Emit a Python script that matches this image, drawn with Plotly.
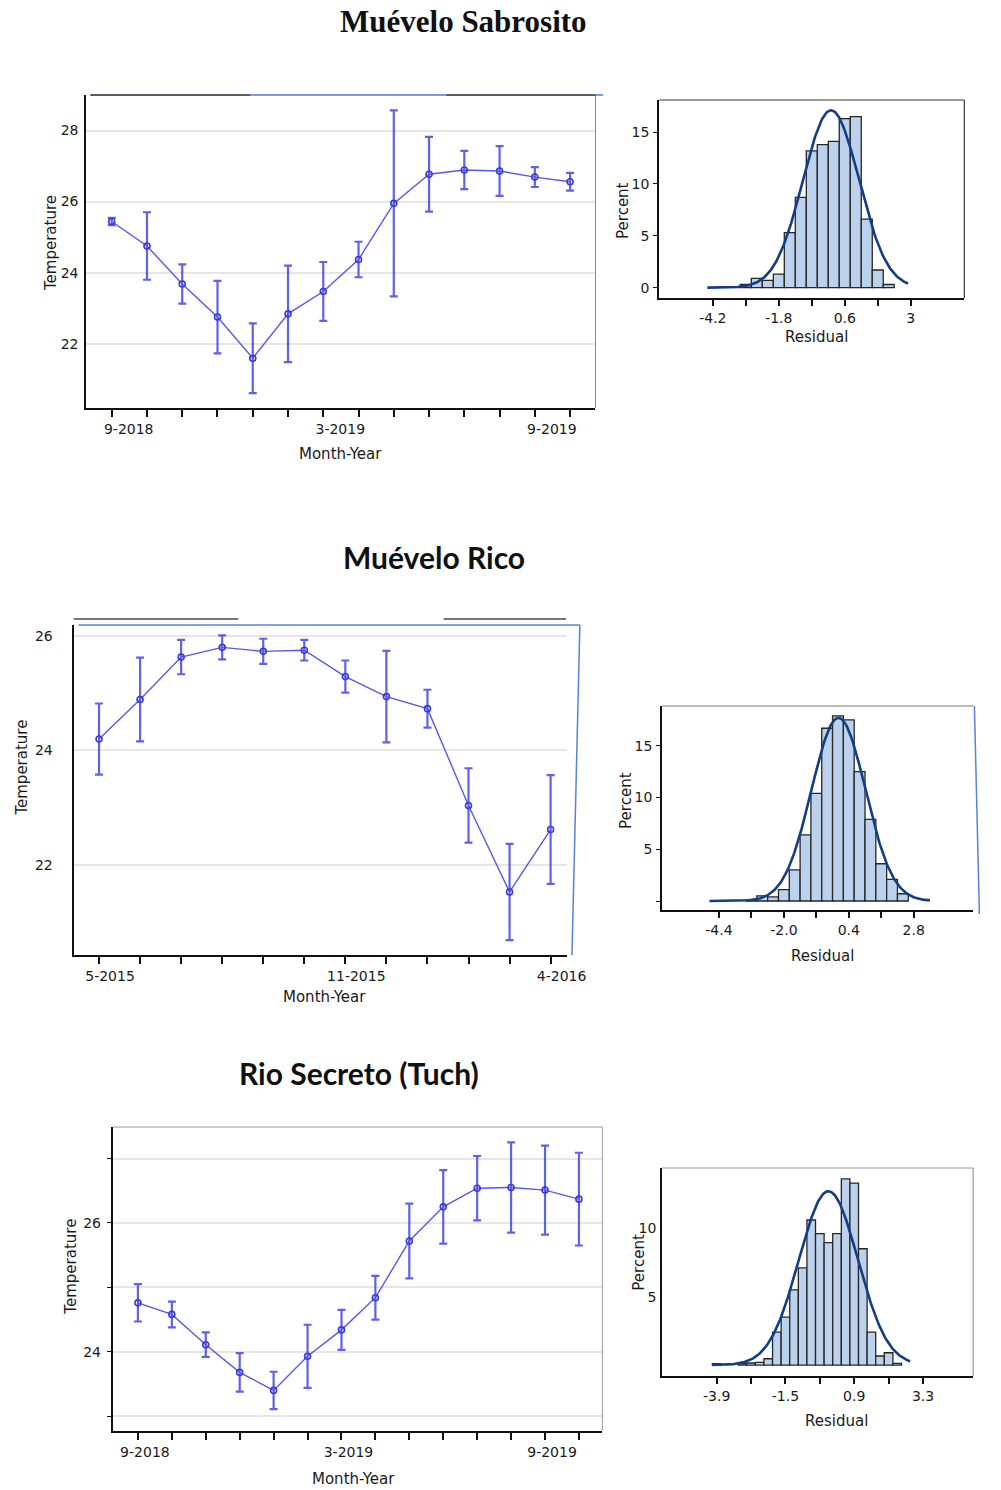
import numpy as np
import plotly.graph_objects as go

W, H = 1001, 1490

# ---------------- data ----------------
ms_months = ["9-2018", "10-2018", "11-2018", "12-2018", "1-2019", "2-2019", "3-2019",
             "4-2019", "5-2019", "6-2019", "7-2019", "8-2019", "9-2019", "10-2019"]
ms_labeled = ["9-2018", "3-2019", "9-2019"]
ms_mean = [25.44, 24.75, 23.68, 22.75, 21.59, 22.84, 23.47, 24.37, 25.95, 26.77, 26.89, 26.86, 26.69, 26.56]
ms_err = [0.10, 0.95, 0.55, 1.02, 0.98, 1.36, 0.83, 0.50, 2.62, 1.05, 0.54, 0.70, 0.28, 0.25]

mr_months = ["5-2015", "6-2015", "7-2015", "8-2015", "9-2015", "10-2015", "11-2015",
             "12-2015", "1-2016", "2-2016", "3-2016", "4-2016"]
mr_labeled = ["5-2015", "11-2015", "4-2016"]
mr_mean = [24.20, 24.89, 25.63, 25.80, 25.73, 25.75, 25.29, 24.94, 24.73, 23.04, 21.53, 22.62]
mr_err = [0.62, 0.73, 0.30, 0.21, 0.22, 0.18, 0.28, 0.80, 0.33, 0.65, 0.84, 0.95]

rs_months = ["9-2018", "10-2018", "11-2018", "12-2018", "1-2019", "2-2019", "3-2019",
             "4-2019", "5-2019", "6-2019", "7-2019", "8-2019", "9-2019", "10-2019"]
rs_labeled = ["9-2018", "3-2019", "9-2019"]
rs_mean = [24.76, 24.58, 24.11, 23.68, 23.40, 23.93, 24.34, 24.84, 25.72, 26.25, 26.54, 26.55, 26.51, 26.37]
rs_err = [0.29, 0.20, 0.19, 0.30, 0.29, 0.49, 0.31, 0.34, 0.58, 0.57, 0.50, 0.70, 0.69, 0.72]

# residual histograms (bin centres, percent)
ms_bin = [-3.0, -2.6, -2.2, -1.8, -1.4, -1.0, -0.6, -0.2, 0.2, 0.6, 1.0, 1.4, 1.8, 2.2]
ms_pct = [0.3, 0.9, 0.7, 1.3, 5.3, 8.7, 13.2, 13.8, 14.1, 16.3, 16.5, 6.6, 1.7, 0.3]
ms_bw = 0.4
ms_fit = dict(mean=0.1, sd=1.02, peak=17.1, lo=-4.4, hi=2.9)
ms_xt = [-4.2, -3.0, -1.8, -0.6, 0.6, 1.8, 3.0]
ms_xl = ["-4.2", "", "-1.8", "", "0.6", "", "3"]

mr_bin = [-3.2, -2.8, -2.4, -2.0, -1.6, -1.2, -0.8, -0.4, 0.0, 0.4, 0.8, 1.2, 1.6, 2.0, 2.4]
mr_pct = [0.1, 0.5, 0.4, 1.1, 3.0, 6.4, 10.4, 16.7, 17.9, 17.5, 12.5, 7.9, 3.6, 2.1, 0.7]
mr_bw = 0.4
mr_fit = dict(mean=0.02, sd=1.0, peak=17.7, lo=-4.75, hi=3.4)
mr_xt = [-4.4, -3.2, -2.0, -0.8, 0.4, 1.6, 2.8]
mr_xl = ["-4.4", "", "-2.0", "", "0.4", "", "2.8"]

rs_bin = [-3.9, -3.0, -2.7, -2.4, -2.1, -1.8, -1.5, -1.2, -0.9, -0.6, -0.3, 0.0, 0.3, 0.6, 0.9, 1.2, 1.5, 1.8, 2.1, 2.4]
rs_pct = [0.1, 0.1, 0.15, 0.2, 0.46, 2.4, 3.5, 5.5, 7.1, 10.6, 9.6, 8.95, 9.6, 13.6, 13.3, 8.5, 2.4, 0.66, 0.9, 0.12]
rs_bw = 0.3
rs_fit = dict(mean=0.0, sd=1.03, peak=12.7, lo=-4.05, hi=2.85)
rs_xt = [-3.9, -2.7, -1.5, -0.3, 0.9, 2.1, 3.3]
rs_xl = ["-3.9", "", "-1.5", "", "0.9", "", "3.3"]

# ---------------- helpers ----------------
def xd(a, b):
    return [a / W, b / W]


def yd(top, bot):
    return [1 - bot / H, 1 - top / H]


TICKFONT = dict(family="DejaVu Sans", size=14, color="#1a1a1a")
LINE_COL = "#5858e6"
ERR_COL = "rgba(52,52,226,0.78)"
BAR_COL = "#bcd2ec"
CURVE_COL = "#133e84"

fig = go.Figure()
layout = dict(width=W, height=H, autosize=False, margin=dict(l=0, r=0, t=0, b=0),
              paper_bgcolor="white", plot_bgcolor="white", showlegend=False,
              shapes=[], annotations=[])


def axname(i, kind):
    return kind if i == 1 else f"{kind}{i}"


def add_line_panel(i, months, labeled, mean, err, dom_x, dom_y, xr, yr,
                   ytv, ytt, shift, yticks="", standoff=3):
    n = len(months)
    fig.add_trace(go.Scatter(
        x=list(range(n)), y=mean, mode="lines+markers",
        line=dict(color=LINE_COL, width=1.4),
        marker=dict(symbol="circle-open", size=6, color="#3a3ad8", line=dict(width=1.6)),
        error_y=dict(type="data", array=err, color=ERR_COL, thickness=2.2, width=4),
        xaxis=axname(i, "x"), yaxis=axname(i, "y")))
    layout[f"xaxis{'' if i == 1 else i}"] = dict(
        domain=dom_x, anchor=axname(i, "y"), range=xr,
        tickvals=list(range(n)), ticktext=[m if m in labeled else "" for m in months],
        ticks="outside", ticklen=7, tickwidth=1.5, tickcolor="#111",
        ticklabelshift=shift, tickfont=TICKFONT,
        showline=True, linecolor="#111", linewidth=2, showgrid=False, zeroline=False)
    layout[f"yaxis{'' if i == 1 else i}"] = dict(
        domain=dom_y, anchor=axname(i, "x"), range=yr,
        tickvals=ytv, ticktext=ytt, ticks=yticks, ticklen=4, tickcolor="#111",
        ticklabelstandoff=standoff, tickfont=TICKFONT,
        showline=True, linecolor="#111", linewidth=2,
        showgrid=True, gridcolor="#e6e6e6", gridwidth=1.5, zeroline=False)


def add_hist_panel(i, bins, pct, bw, fit, xt, xl, dom_x, dom_y, xr, yr, ytv, ytt, yticks):
    fig.add_trace(go.Bar(
        x=bins, y=pct, width=bw,
        marker=dict(color=BAR_COL, line=dict(color="#262626", width=1.3)),
        xaxis=axname(i, "x"), yaxis=axname(i, "y")))
    gx = np.linspace(fit["lo"], fit["hi"], 200)
    gy = fit["peak"] * np.exp(-0.5 * ((gx - fit["mean"]) / fit["sd"]) ** 2)
    fig.add_trace(go.Scatter(
        x=gx, y=gy, mode="lines", line=dict(color=CURVE_COL, width=2.6),
        xaxis=axname(i, "x"), yaxis=axname(i, "y")))
    layout[f"xaxis{i}"] = dict(
        domain=dom_x, anchor=axname(i, "y"), range=xr,
        tickvals=xt, ticktext=xl, ticks="outside", ticklen=6, tickwidth=1.5,
        tickcolor="#111", tickfont=TICKFONT,
        showline=True, linecolor="#111", linewidth=2, showgrid=False, zeroline=False)
    layout[f"yaxis{i}"] = dict(
        domain=dom_y, anchor=axname(i, "x"), range=yr,
        tickvals=ytv, ticktext=ytt, ticks=yticks, ticklen=4, tickwidth=1.3,
        tickcolor="#111", tickfont=TICKFONT, ticklabelstandoff=1,
        showline=True, linecolor="#111", linewidth=2, showgrid=False, zeroline=False)


def seg(i, x0, y0, x1, y1, color, width):
    layout["shapes"].append(dict(
        type="line", xref=f"{axname(i, 'x')} domain", yref=f"{axname(i, 'y')} domain",
        x0=x0, y0=y0, x1=x1, y1=y1, line=dict(color=color, width=width)))


def text(t, px, py, size, family="DejaVu Sans", angle=0, bold=False, color="#1a1a1a"):
    layout["annotations"].append(dict(
        text=f"<b>{t}</b>" if bold else t, x=px / W, y=1 - py / H,
        xref="paper", yref="paper", xanchor="center", yanchor="middle",
        showarrow=False, textangle=angle, font=dict(family=family, size=size, color=color)))


# ---------------- panel 1: Muévelo Sabrosito ----------------
add_line_panel(1, ms_months, ms_labeled, ms_mean, ms_err,
               xd(88, 607), yd(95, 408), [-0.72, 13.72], [20.19, 29.0],
               [22, 24, 26, 28], ["22", "24", "26", "28"], 17)
seg(1, 1, 0, 1, 1, "#8a8a8a", 1)
seg(1, 0.008, 1, 1.015, 1, "#4f78d4", 1.5)
seg(1, 0.008, 1, 0.322, 1, "#4a4a4a", 1.5)
seg(1, 0.707, 1, 1.0, 1, "#4a4a4a", 1.5)

add_hist_panel(2, ms_bin, ms_pct, ms_bw, ms_fit, ms_xt, ms_xl,
               xd(672, 983), yd(100, 298), [-6.15, 4.95], [-1.0, 18.1],
               [0, 5, 10, 15], ["0", "5", "10", "15"], "outside")
seg(2, 0, 1, 1, 1, "#3a3a3a", 1.2)
seg(2, 1, 0, 1, 1, "#3a3a3a", 1.2)

# ---------------- panel 2: Muévelo Rico ----------------
add_line_panel(3, mr_months, mr_labeled, mr_mean, mr_err,
               xd(75, 578), yd(625, 955), [-0.62, 11.4], [20.43, 26.19],
               [22, 24, 26], ["22", "24", "26"], 11, standoff=16)
seg(3, 0.0, 1.018, 0.334, 1.018, "#4a4a4a", 1.5)
seg(3, 0.75, 1.018, 0.998, 1.018, "#4a4a4a", 1.5)
seg(3, 0.01, 1, 1.026, 1, "#5b82d8", 1.5)
seg(3, 1.026, 1, 1.01, 0, "#5b82d8", 1.5)

add_hist_panel(4, mr_bin, mr_pct, mr_bw, mr_fit, mr_xt, mr_xl,
               xd(675, 992), yd(706, 910), [-6.5, 5.0], [-0.87, 18.85],
               [0, 5, 10, 15], ["", "5", "10", "15"], "outside")
seg(4, 0, 1, 1, 1, "#7a7a7a", 1.2)
seg(4, 1.004, 1, 1.02, -0.02, "#5b82d8", 1.5)

# ---------------- panel 3: Rio Secreto (Tuch) ----------------
add_line_panel(5, rs_months, rs_labeled, rs_mean, rs_err,
               xd(115, 614), yd(1127, 1431), [-0.74, 13.69], [22.77, 27.49],
               [23, 24, 25, 26, 27], ["", "24", "", "26", ""], 7, yticks="outside")
seg(5, 0, 1, 1, 1, "#9a9a9a", 1)
seg(5, 1, 0, 1, 1, "#9a9a9a", 1)

add_hist_panel(6, rs_bin, rs_pct, rs_bw, rs_fit, rs_xt, rs_xl,
               xd(675, 992), yd(1168, 1376), [-5.8, 5.05], [-0.8, 14.4],
               [5, 10], ["5", "10"], "")
seg(6, 0, 1, 1, 1, "#9a9a9a", 1.2)
seg(6, 1, 0, 1, 1, "#9a9a9a", 1.2)

# ---------------- titles & axis titles ----------------
text("Muévelo Sabrosito", 472, 22, 31, family="Liberation Serif", bold=True, color="#111")
text("Muévelo Rico", 442, 557, 30, family="Lato", bold=True, color="#111")
text("Rio Secreto (Tuch)", 366, 1073, 30, family="Lato", bold=True, color="#111")

text("Temperature", 52, 243, 15, angle=-90)
text("Month-Year", 347, 454, 15)
text("Percent", 635, 210, 15, angle=-90)
text("Residual", 832, 337, 15)

text("Temperature", 22, 768, 15, angle=-90)
text("Month-Year", 331, 997, 15)
text("Percent", 638, 800, 15, angle=-90)
text("Residual", 838, 956, 15)

text("Temperature", 72, 1267, 15, angle=-90)
text("Month-Year", 360, 1479, 15)
text("Percent", 651, 1262, 15, angle=-90)
text("Residual", 853, 1421, 15)

fig.update_layout(**layout)
fig.write_html("out.html")
